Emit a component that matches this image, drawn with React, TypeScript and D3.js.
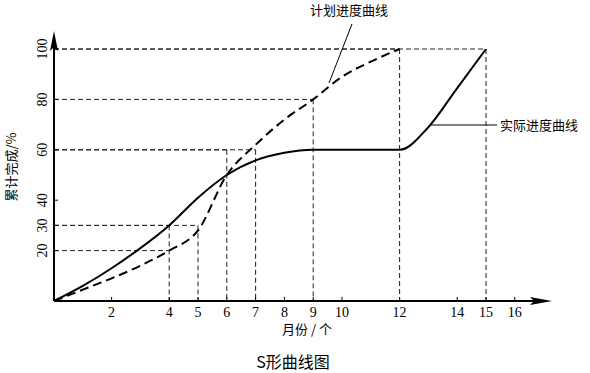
import * as d3 from 'd3'

// months and percentages
const actualX = [0, 1, 2, 3, 4, 5, 6, 7, 8, 9, 12, 13, 14, 15]
const actualY = [0, 6, 13, 21, 30, 41, 50, 55.8, 58.8, 60, 60, 69, 84.5, 100]
const planX = [0, 1, 2, 3, 4, 5, 6, 7, 8, 9, 10, 11, 12]
const planY = [0, 4.5, 9, 14, 20, 28, 50, 62, 72, 80, 89, 95, 100]

const xTicks = [2, 4, 5, 6, 7, 8, 9, 10, 12, 14, 15, 16]
const yTicks = [20, 30, 40, 60, 80, 100]

// dashed guide lines: [month, percent]
const guides = [[4, 30], [5, 30], [6, 60], [7, 60], [9, 80], [12, 100], [15, 100], [4, 20]]

const serif = '"Liberation Serif", "DejaVu Serif", serif'
const cjk = '"Noto Sans CJK SC", sans-serif'

const App = () => {
  const x = d3.scaleLinear().domain([0, 16]).range([54, 514.8])
  const y = d3.scaleLinear().domain([0, 100]).range([301, 49])

  const actualPath = d3.line<number>()
    .x(d => x(d))
    .y((_, i) => y(actualY[i]))
    .curve(d3.curveMonotoneX)(actualX)
  const planPath = d3.line<number>()
    .x(d => x(d))
    .y((_, i) => y(planY[i]))
    .curve(d3.curveMonotoneX)(planX)

  const x0 = x(0), yb = y(0)

  return (
    <svg width={590} height={373} style={{ position: 'absolute', left: 0, top: 0, background: '#fff' }}>
      {/* guides */}
      <g stroke="#222" strokeWidth={1} strokeDasharray="5,3" fill="none">
        {guides.map(([m, v], i) => (
          <g key={i}>
            <line x1={x0} x2={x(m)} y1={y(v)} y2={y(v)} />
            {m !== 4 || v !== 20 ? <line x1={x(m)} x2={x(m)} y1={y(v)} y2={yb} /> : null}
          </g>
        ))}
      </g>

      {/* axes */}
      <line x1={x0} x2={540} y1={yb} y2={yb} stroke="#000" strokeWidth={2} />
      <path d={`M552,${yb} L530,${yb - 4} L534,${yb} L530,${yb + 4} Z`} fill="#000" />
      <line x1={x0} x2={x0} y1={yb} y2={44} stroke="#000" strokeWidth={2} />
      <path d={`M${x0},31 L${x0 - 4},51 L${x0},47 L${x0 + 4},51 Z`} fill="#000" />

      {xTicks.map(t => (
        <g key={t}>
          <line x1={x(t)} x2={x(t)} y1={yb} y2={yb - 4} stroke="#000" strokeWidth={1} />
          <text x={x(t)} y={yb + 16} textAnchor="middle" fontFamily={serif} fontSize={14}>{t}</text>
        </g>
      ))}
      {yTicks.map(t => (
        <g key={t}>
          <line x1={x0} x2={x0 + 4} y1={y(t)} y2={y(t)} stroke="#000" strokeWidth={1} />
          <text transform={`translate(47,${y(t)}) rotate(-90)`} textAnchor="middle" fontFamily={serif} fontSize={14}>{t}</text>
        </g>
      ))}

      {/* curves */}
      <path d={planPath ?? ''} fill="none" stroke="#000" strokeWidth={2} strokeDasharray="9,5" />
      <path d={actualPath ?? ''} fill="none" stroke="#000" strokeWidth={2} />

      {/* annotations */}
      <line x1={352} y1={24} x2={329} y2={83} stroke="#000" strokeWidth={1} />
      <text x={349} y={15} textAnchor="middle" fontFamily={cjk} fontSize={13}>计划进度曲线</text>
      <line x1={430} y1={125} x2={497} y2={125} stroke="#000" strokeWidth={1} />
      <text x={500} y={130} fontFamily={cjk} fontSize={13}>实际进度曲线</text>

      <text transform="translate(16,167) rotate(-90)" textAnchor="middle" fontFamily={cjk} fontSize={13}>累计完成/%</text>
      <text x={307} y={334} textAnchor="middle" fontFamily={cjk} fontSize={13}>月份 / 个</text>
      <text x={293} y={368} textAnchor="middle" fontFamily={cjk} fontSize={16}>S形曲线图</text>
    </svg>
  )
}

export default App
